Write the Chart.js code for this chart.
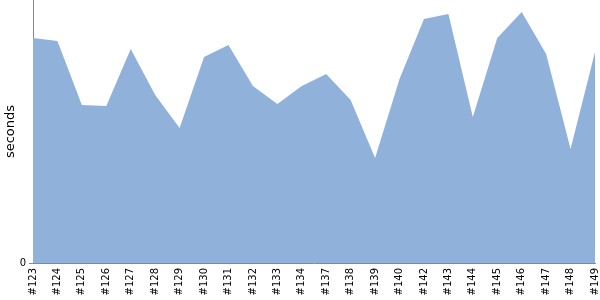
<!DOCTYPE html>
<html>
<head>
<meta charset="utf-8">
<script src="https://cdn.jsdelivr.net/npm/chart.js@4/dist/chart.umd.min.js"></script>
<style>
  body { margin: 0; background: #fff; }
</style>
</head>
<body>
<canvas id="buildChart" width="600" height="300"></canvas>
<script>
const builds = ['#123', '#124', '#125', '#126', '#127', '#128', '#129', '#130', '#131', '#132', '#133', '#134',
                '#137', '#138', '#139', '#140', '#142', '#143', '#144', '#145', '#146', '#147', '#148', '#149'];
const durations = [225, 222, 158, 157, 214, 168, 135, 206, 218, 177, 159, 177,
                   189, 163, 105, 184, 244, 249, 146, 225, 251, 209, 114, 211];
const yTicks = [0];
const yMax = 263;

document.addEventListener('DOMContentLoaded', function() {
    const ctx = document.getElementById('buildChart').getContext('2d');
    new Chart(ctx, {
        type: 'line',
        data: {
            labels: builds,
            datasets: [{
                label: 'seconds',
                data: durations,
                fill: 'origin',
                backgroundColor: '#8fb1da',
                borderWidth: 0,
                pointRadius: 0,
                tension: 0
            }]
        },
        options: {
            responsive: false,
            animation: false,
            layout: { padding: { right: 5, top: 0, left: 0, bottom: 0 } },
            plugins: { legend: { display: false }, tooltip: { enabled: false } },
            scales: {
                x: {
                    offset: false,
                    grid: { display: false, drawTicks: false },
                    border: { display: true, color: '#888', width: 1 },
                    afterFit: axis => {
                        axis.height = 37;
                        axis.paddingLeft = 0;
                        axis.paddingRight = 0;
                    },
                    ticks: {
                        autoSkip: false,
                        maxRotation: 90,
                        minRotation: 90,
                        color: '#000',
                        padding: 5,
                        font: { family: 'DejaVu Sans', size: 10 }
                    }
                },
                y: {
                    min: 0,
                    max: yMax,
                    grid: { display: true, drawOnChartArea: false, drawTicks: true, tickLength: 4, color: '#888' },
                    border: { display: true, color: '#888', width: 1 },
                    afterBuildTicks: axis => { axis.ticks = yTicks.map(v => ({ value: v })); },
                    afterFit: axis => {
                        axis.width = 33;
                        axis.paddingTop = 0;
                        axis.paddingBottom = 0;
                    },
                    ticks: {
                        color: '#000',
                        padding: 3,
                        font: { family: 'DejaVu Sans', size: 10 }
                    },
                    title: {
                        display: true,
                        text: 'seconds',
                        color: '#000',
                        padding: 3,
                        font: { family: 'DejaVu Sans', size: 13 }
                    }
                }
            }
        }
    });
});
</script>
</body>
</html>
